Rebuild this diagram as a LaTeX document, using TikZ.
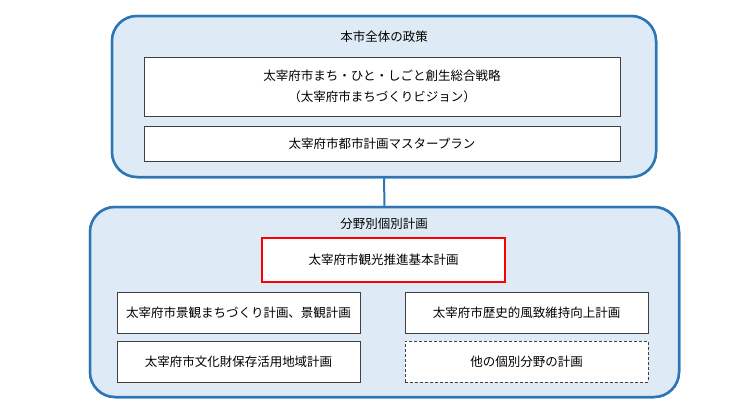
\documentclass[tikz,border=0pt]{standalone}
\usepackage{fontspec}
\setmainfont{Noto Sans CJK JP}
\usetikzlibrary{positioning}

\definecolor{frameblue}{HTML}{2E75B6}
\definecolor{fillblue}{HTML}{DEEBF7}
\definecolor{planred}{HTML}{FF0000}
\definecolor{plangray}{HTML}{404040}

\begin{document}
\begin{tikzpicture}[x=1pt, y=-1pt,
  group/.style={draw=frameblue, line width=2.5pt, fill=fillblue, rounded corners=25pt, inner sep=0pt},
  plan/.style={draw=plangray, line width=1pt, fill=white, inner sep=0pt, align=center,
    minimum width=243pt, minimum height=41pt, font=\fontsize{12.5}{21}\selectfont},
  keyplan/.style={plan, draw=planred, line width=2.5pt, minimum height=44pt},
  otherplan/.style={plan, dashed, dash pattern=on 3pt off 2pt},
  grouptitle/.style={font=\fontsize{12.5}{15}\selectfont},
  link/.style={draw=frameblue, line width=2pt}]
  \useasboundingbox (0,0) rectangle (740,405);

  % Groups
  \node[group, minimum width=544pt, minimum height=161pt] (policy) at (384,96.5) {};
  \node[group, minimum width=589pt, minimum height=190pt] (sector) at (384.5,302) {};
  \draw[link] (policy.south) -- (sector.north);
  \node[group, minimum width=544pt, minimum height=161pt] at (policy) {};
  \node[group, minimum width=589pt, minimum height=190pt] at (sector) {};

  % City-wide policy
  \node[grouptitle] (policytitle) at (384,37) {本市全体の政策};
  \node[plan, minimum width=476pt, minimum height=59pt] (vision) at (382,86.5)
    {太宰府市まち・ひと・しごと創生総合戦略\\（太宰府市まちづくりビジョン）};
  \node[plan, minimum width=476pt, minimum height=35pt, below=9pt of vision] (masterplan)
    {太宰府市都市計画マスタープラン};

  % Individual plans
  \node[grouptitle] (sectortitle) at (384,224) {分野別個別計画};
  \node[keyplan] (tourism) at (383.5,260) {太宰府市観光推進基本計画};
  \node[plan] (landscape) at (238.5,312.5) {太宰府市景観まちづくり計画、景観計画};
  \node[plan, below=7pt of landscape] (culture) {太宰府市文化財保存活用地域計画};
  \node[plan] (history) at (526.5,312.5) {太宰府市歴史的風致維持向上計画};
  \node[otherplan, below=7pt of history] (others) {他の個別分野の計画};
\end{tikzpicture}
\end{document}
